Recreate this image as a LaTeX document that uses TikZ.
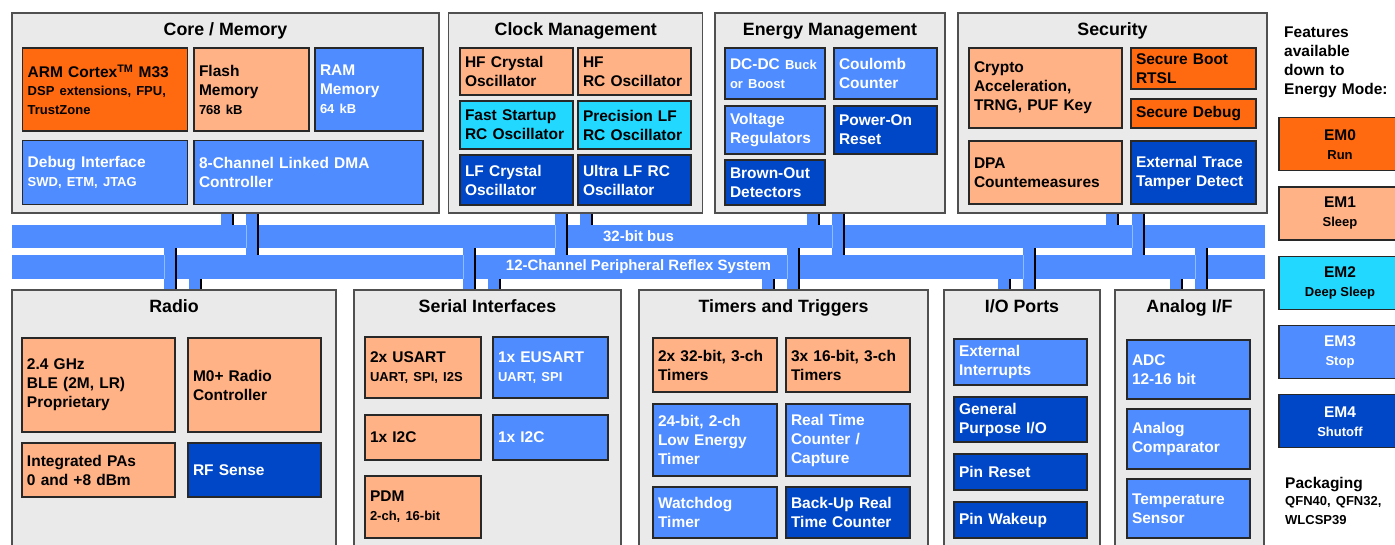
\documentclass[tikz,border=0pt]{standalone}
\usepackage{fontspec}
\setmainfont{Liberation Sans}
\usetikzlibrary{positioning, calc, backgrounds}
\definecolor{emzero}{RGB}{255, 106, 16}
\definecolor{emone}{RGB}{255, 178, 134}
\definecolor{emtwo}{RGB}{34, 216, 255}
\definecolor{emthree}{RGB}{79, 140, 255}
\definecolor{emfour}{RGB}{0, 71, 199}
\definecolor{grpfill}{RGB}{234, 234, 234}
\definecolor{grpline}{RGB}{80, 80, 80}
\definecolor{blkline}{RGB}{40, 40, 40}
\definecolor{buslight}{RGB}{140, 190, 255}
\newcommand{\mainsz}{\fontsize{15.5}{19}\selectfont\bfseries}
\newcommand{\smallsz}{\fontsize{13}{17.5}\selectfont\bfseries}
\newcommand{\titlesz}{\fontsize{17.8}{21}\selectfont\bfseries}
\tikzset{
  grp/.style={draw=grpline, fill=grpfill, line width=1.2pt, inner sep=0pt},
  grptitle/.style={font=\titlesz, inner sep=0pt, anchor=base},
  sz/.code 2 args={\pgfmathsetmacro\blktw{#1-10}\pgfkeysalso{minimum width=#1pt, minimum height=#2pt, text width/.expanded=\blktw pt}},
  blk/.style={draw=blkline, line width=1.3pt, inner xsep=5pt, inner ysep=0pt, align=left, font=\mainsz},
  blk0/.style={blk, fill=emzero, text=black},
  blk1/.style={blk, fill=emone, text=black},
  blk2/.style={blk, fill=emtwo, text=black},
  blk3/.style={blk, fill=emthree, text=white},
  blk4/.style={blk, fill=emfour, text=white},
  bus/.style={fill=emthree, text=white, font=\fontsize{15}{18}\selectfont\bfseries, inner sep=0pt, minimum width=1253pt},
  stubfill/.style={fill=emthree},
  stubedge/.style={draw=black, line width=1.2pt},
  stublight/.style={draw=buslight, line width=0.8pt},
  emkey/.style={draw=blkline, line width=1.3pt, minimum width=122pt, minimum height=53pt, align=center, font=\mainsz},
  keytext/.style={inner sep=0pt, anchor=north west, text width=115pt, align=left, font=\mainsz},
}

\begin{document}
\begin{tikzpicture}[x=1pt, y=-1pt]
  \useasboundingbox (0,0) rectangle (1395,544);
  \clip (0,0) rectangle (1395,544);

  % Core / Memory
  \node[grp, minimum width=427pt, minimum height=200pt] (core) at (225.5,113) {};
  \node[grptitle] (coret) at (225.5,35) {Core / Memory};
  \node[blk0, sz={165}{83}] (cpu) at (105.2,89.5) {ARM Cortex\textsuperscript{TM} M33\\{\smallsz DSP extensions, FPU,\\TrustZone}};
  \node[blk1, sz={115}{83}] (flash) at (251.5,89.5) {Flash\\Memory\\{\smallsz 768 kB}};
  \node[blk3, sz={108}{83}] (ram) at (369,89.5) {RAM\\Memory\\{\smallsz 64 kB}};
  \node[blk3, sz={165}{64}] (dbg) at (105.2,172.2) {Debug Interface\\{\smallsz SWD, ETM, JTAG}};
  \node[blk3, sz={229}{64}] (dma) at (308.5,172.2) {8-Channel Linked DMA\\Controller};

  % Clock Management
  \node[grp, minimum width=254pt, minimum height=200pt] (clock) at (575.8,113) {};
  \node[grptitle] (clockt) at (575.8,35) {Clock Management};
  \node[blk1, sz={113}{47}] (hfxo) at (516.5,71.5) {HF Crystal\\Oscillator};
  \node[blk1, sz={113}{47}] (hfrco) at (634.5,71.5) {HF\\RC Oscillator};
  \node[blk2, sz={113}{48}] (fsrco) at (516.5,125) {Fast Startup\\RC Oscillator};
  \node[blk2, sz={113}{48}] (lfrco) at (634.5,125) {Precision LF\\RC Oscillator};
  \node[blk4, sz={113}{50}] (lfxo) at (516.5,180) {LF Crystal\\Oscillator};
  \node[blk4, sz={113}{50}] (ulfrco) at (634.5,180) {Ultra LF RC\\Oscillator};

  % Energy Management
  \node[grp, minimum width=230pt, minimum height=200pt] (energy) at (830,113) {};
  \node[grptitle] (energyt) at (830,35) {Energy Management};
  \node[blk3, sz={100}{51}] (dcdc) at (775,73.5) {DC-DC {\smallsz Buck}\\{\smallsz or Boost}};
  \node[blk3, sz={103}{51}] (coulomb) at (885.5,73.5) {Coulomb\\Counter};
  \node[blk3, sz={100}{48}] (vreg) at (775,130) {Voltage\\Regulators};
  \node[blk4, sz={103}{48}] (por) at (885.5,130) {Power-On\\Reset};
  \node[blk4, sz={100}{45}] (bod) at (775,182.5) {Brown-Out\\Detectors};

  % Security
  \node[grp, minimum width=309pt, minimum height=200pt] (sec) at (1112.5,113) {};
  \node[grptitle] (sect) at (1112.5,35) {Security};
  \node[blk1, sz={153}{80}] (crypto) at (1045.5,88) {Crypto\\Acceleration,\\TRNG, PUF Key};
  \node[blk0, sz={125}{41}] (sboot) at (1193.5,68.5) {Secure Boot\\RTSL};
  \node[blk0, sz={125}{29}] (sdebug) at (1193.5,113.5) {Secure Debug};
  \node[blk1, sz={153}{63}] (dpa) at (1045.5,172.5) {DPA\\Countemeasures};
  \node[blk4, sz={125}{63}] (tamper) at (1193.5,172.5) {External Trace\\Tamper Detect};

  % Radio
  \node[grp, minimum width=324pt, minimum height=270pt] (radio) at (174,425) {};
  \node[grptitle] (radiot) at (174,312) {Radio};
  \node[blk1, sz={153}{94}] (band) at (98.5,385) {2.4 GHz\\BLE (2M, LR)\\Proprietary};
  \node[blk1, sz={133}{94}] (m0) at (254.5,385) {M0+ Radio\\Controller};
  \node[blk1, sz={153}{54}] (pa) at (98.5,470) {Integrated PAs\\0 and +8 dBm};
  \node[blk4, sz={133}{54}] (rfsense) at (254.5,470) {RF Sense};

  % Serial Interfaces
  \node[grp, minimum width=267pt, minimum height=270pt] (serial) at (487.5,425) {};
  \node[grptitle] (serialt) at (487.5,312) {Serial Interfaces};
  \node[blk1, sz={116}{61}] (usart) at (423,367.5) {2x USART\\{\smallsz UART, SPI, I2S}};
  \node[blk3, sz={115}{61}] (eusart) at (550.5,367.5) {1x EUSART\\{\smallsz UART, SPI}};
  \node[blk1, sz={116}{45}] (itc) at (423,437.5) {1x I2C};
  \node[blk3, sz={115}{45}] (itcb) at (550.5,437.5) {1x I2C};
  \node[blk1, sz={116}{62}] (pdm) at (423,507) {PDM\\{\smallsz 2-ch, 16-bit}};

  % Timers and Triggers
  \node[grp, minimum width=289pt, minimum height=270pt] (timers) at (783.5,425) {};
  \node[grptitle] (timerst) at (783.5,312) {Timers and Triggers};
  \node[blk1, sz={124}{54}] (timer) at (715,365) {2x 32-bit, 3-ch\\Timers};
  \node[blk1, sz={124}{54}] (timerb) at (848,365) {3x 16-bit, 3-ch\\Timers};
  \node[blk3, sz={124}{72}] (letimer) at (715,440) {24-bit, 2-ch\\Low Energy\\Timer};
  \node[blk3, sz={124}{72}] (rtcc) at (848,440) {Real Time\\Counter /\\Capture};
  \node[blk3, sz={124}{51}] (wdog) at (715,512.5) {Watchdog\\Timer};
  \node[blk4, sz={124}{51}] (burtc) at (848,512.5) {Back-Up Real\\Time Counter};

  % I/O Ports
  \node[grp, minimum width=156pt, minimum height=270pt] (io) at (1022,425) {};
  \node[grptitle] (iot) at (1022,312) {I/O Ports};
  \node[blk3, sz={133}{46}] (extint) at (1020.5,362) {External\\Interrupts};
  \node[blk4, sz={133}{45}] (gpio) at (1020.5,419.5) {General\\Purpose I/O};
  \node[blk4, sz={133}{36}] (pinrst) at (1020.5,472) {Pin Reset};
  \node[blk4, sz={133}{36}] (pinwake) at (1020.5,520) {Pin Wakeup};

  % Analog I/F
  \node[grp, minimum width=149pt, minimum height=270pt] (analog) at (1189.5,425) {};
  \node[grptitle] (analogt) at (1189.5,312) {Analog I/F};
  \node[blk3, sz={123}{59}] (adc) at (1188.5,369.5) {ADC\\12-16 bit};
  \node[blk3, sz={123}{60}] (acmp) at (1188.5,439) {Analog\\Comparator};
  \node[blk3, sz={123}{59}] (temp) at (1188.5,508.5) {Temperature\\Sensor};

  % Energy mode key
  \node[keytext] (feat) at (1284,26.9) {Features\\available\\down to\\Energy Mode:};
  \node[emkey, fill=emzero] (emz) at (1340,144.3) {EM0\\{\smallsz Run}};
  \node[emkey, fill=emone] (emo) at (1340,213.5) {EM1\\{\smallsz Sleep}};
  \node[emkey, fill=emtwo] (emt) at (1340,282.8) {EM2\\{\smallsz Deep Sleep}};
  \node[emkey, fill=emthree, text=white] (emh) at (1340,352.2) {EM3\\{\smallsz Stop}};
  \node[emkey, fill=emfour, text=white] (emf) at (1340,421.3) {EM4\\{\smallsz Shutoff}};
  \node[keytext] (pkg) at (1285,476.7) {Packaging\\{\smallsz QFN40, QFN32,\\WLCSP39}};

  % Buses and stubs
  \begin{scope}[on background layer]
    \node[bus, minimum height=23pt] (bus32) at (638.5,236.5) {32-bit bus};
    \node[bus, minimum height=24pt] (prs) at (638.5,267) {12-Channel Peripheral Reflex System};

    \fill[stubfill] (221,0 |- core.south) rectangle (233,0 |- bus32.north);
    \draw[stubedge] (233,0 |- core.south) -- (233,0 |- bus32.north);
    \fill[stubfill] (246,0 |- core.south) rectangle (258,0 |- prs.north);
    \draw[stublight] (246,0 |- bus32.north) -- (246,0 |- bus32.south);
    \draw[stubedge] (258,0 |- core.south) -- (258,0 |- prs.north);

    \fill[stubfill] (555,0 |- clock.south) rectangle (567,0 |- prs.north);
    \draw[stublight] (555,0 |- bus32.north) -- (555,0 |- bus32.south);
    \draw[stubedge] (567,0 |- clock.south) -- (567,0 |- prs.north);
    \fill[stubfill] (580,0 |- clock.south) rectangle (592,0 |- bus32.north);
    \draw[stubedge] (592,0 |- clock.south) -- (592,0 |- bus32.north);

    \fill[stubfill] (807,0 |- energy.south) rectangle (819,0 |- bus32.north);
    \draw[stubedge] (819,0 |- energy.south) -- (819,0 |- bus32.north);
    \fill[stubfill] (832,0 |- energy.south) rectangle (844,0 |- prs.north);
    \draw[stublight] (832,0 |- bus32.north) -- (832,0 |- bus32.south);
    \draw[stubedge] (844,0 |- energy.south) -- (844,0 |- prs.north);

    \fill[stubfill] (1106,0 |- sec.south) rectangle (1118,0 |- bus32.north);
    \draw[stubedge] (1118,0 |- sec.south) -- (1118,0 |- bus32.north);
    \fill[stubfill] (1132,0 |- sec.south) rectangle (1144,0 |- prs.north);
    \draw[stublight] (1132,0 |- bus32.north) -- (1132,0 |- bus32.south);
    \draw[stubedge] (1144,0 |- sec.south) -- (1144,0 |- prs.north);

    \fill[stubfill] (164,0 |- bus32.south) rectangle (176,0 |- radio.north);
    \draw[stublight] (164,0 |- prs.north) -- (164,0 |- prs.south);
    \draw[stubedge] (176,0 |- bus32.south) -- (176,0 |- radio.north);
    \fill[stubfill] (189,0 |- prs.south) rectangle (201,0 |- radio.north);
    \draw[stubedge] (201,0 |- prs.south) -- (201,0 |- radio.north);

    \fill[stubfill] (463,0 |- bus32.south) rectangle (475,0 |- serial.north);
    \draw[stublight] (463,0 |- prs.north) -- (463,0 |- prs.south);
    \draw[stubedge] (475,0 |- bus32.south) -- (475,0 |- serial.north);
    \fill[stubfill] (488,0 |- prs.south) rectangle (500,0 |- serial.north);
    \draw[stubedge] (500,0 |- prs.south) -- (500,0 |- serial.north);

    \fill[stubfill] (762,0 |- prs.south) rectangle (774,0 |- timers.north);
    \draw[stubedge] (774,0 |- prs.south) -- (774,0 |- timers.north);
    \fill[stubfill] (787,0 |- bus32.south) rectangle (799,0 |- timers.north);
    \draw[stublight] (787,0 |- prs.north) -- (787,0 |- prs.south);
    \draw[stubedge] (799,0 |- bus32.south) -- (799,0 |- timers.north);

    \fill[stubfill] (998,0 |- prs.south) rectangle (1010,0 |- io.north);
    \draw[stubedge] (1010,0 |- prs.south) -- (1010,0 |- io.north);
    \fill[stubfill] (1023,0 |- bus32.south) rectangle (1035,0 |- io.north);
    \draw[stublight] (1023,0 |- prs.north) -- (1023,0 |- prs.south);
    \draw[stubedge] (1035,0 |- bus32.south) -- (1035,0 |- io.north);

    \fill[stubfill] (1170,0 |- prs.south) rectangle (1182,0 |- analog.north);
    \draw[stubedge] (1182,0 |- prs.south) -- (1182,0 |- analog.north);
    \fill[stubfill] (1195,0 |- bus32.south) rectangle (1207,0 |- analog.north);
    \draw[stublight] (1195,0 |- prs.north) -- (1195,0 |- prs.south);
    \draw[stubedge] (1207,0 |- bus32.south) -- (1207,0 |- analog.north);
  \end{scope}
\end{tikzpicture}
\end{document}
